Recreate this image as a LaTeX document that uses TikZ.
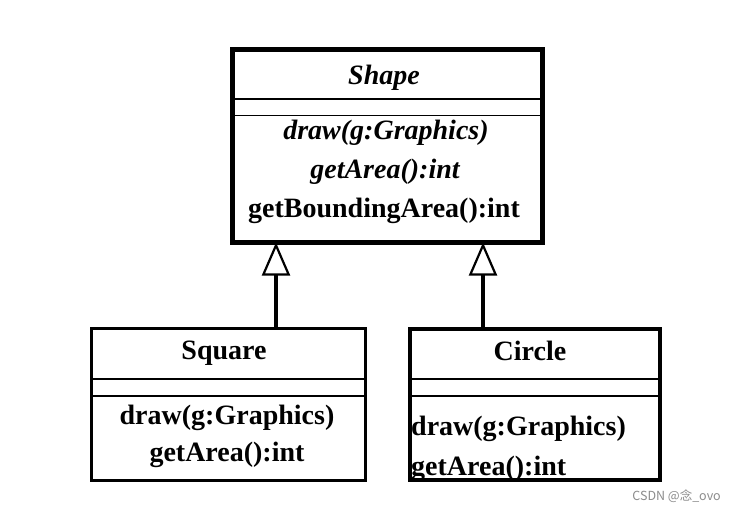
\documentclass[tikz,border=0pt]{standalone}
\usepackage{fontspec}
\setmainfont{Liberation Serif}
\newfontfamily\cjk{Noto Sans CJK SC}
\usetikzlibrary{arrows.meta}
\begin{document}
\begin{tikzpicture}[x=1pt,y=-1pt,
  classbox/.style={draw, inner sep=0pt, outer sep=0pt, fill=white},
  sep/.style={line width=1.3pt},
  txt/.style={inner sep=0pt, anchor=base, font=\fontsize{28}{30}\selectfont\bfseries},
  txtl/.style={inner sep=0pt, anchor=base west, font=\fontsize{28}{30}\selectfont\bfseries},
  inherit/.style={line width=4pt, -{Triangle[open, length=33pt, width=28pt, line width=2.2pt]}}]
\useasboundingbox[fill=white] (0,0) rectangle (735,510);
% boxes
\node[classbox, line width=4.5pt, minimum width=310pt, minimum height=193pt] (shape) at (387.5,146) {};
\node[classbox, line width=3pt, minimum width=274pt, minimum height=151.5pt] (square) at (228,404.25) {};
\node[classbox, line width=4pt, minimum width=250pt, minimum height=151.5pt] (circle) at (534.5,404.25) {};
% compartments
\draw[sep] (shape.west |- 0,99) -- (shape.east |- 0,99);
\draw[sep] (shape.west |- 0,115.5) -- (shape.east |- 0,115.5);
\draw[sep] (square.west |- 0,379) -- (square.east |- 0,379);
\draw[sep] (square.west |- 0,396) -- (square.east |- 0,396);
\draw[sep] (circle.west |- 0,379) -- (circle.east |- 0,379);
\draw[sep] (circle.west |- 0,396) -- (circle.east |- 0,396);
% texts
\node[txt] (t1) at (384,85) {\itshape Shape};
\node[txt] (t2) at (386,140) {\itshape draw(g:Graphics)};
\node[txt] (t3) at (385,179) {\itshape getArea():int};
\node[txt] (t4) at (384,218) {getBoundingArea():int};
\node[txt] (s1) at (224,359) {Square};
\node[txt] (s2) at (227,424) {draw(g:Graphics)};
\node[txt] (s3) at (227,461) {getArea():int};
\node[txt] (c1) at (530,360) {Circle};
\node[txtl] (c2) at (411,435) {draw(g:Graphics)};
\node[txtl] (c3) at (411,475) {getArea():int};
\draw[line width=4pt] (circle.north west) rectangle (circle.south east);
% inheritance
\coordinate (sqtop) at (276,326.5);
\coordinate (citop) at (483,326.5);
\draw[inherit] (sqtop) -- (sqtop |- shape.south);
\draw[inherit] (citop) -- (citop |- shape.south);
% watermark
\node[inner sep=0pt, anchor=base east, text=black!45, font=\cjk\fontsize{12.5}{14}\selectfont] (wm) at (721,500) {CSDN @念\_ovo};
\end{tikzpicture}
\end{document}
